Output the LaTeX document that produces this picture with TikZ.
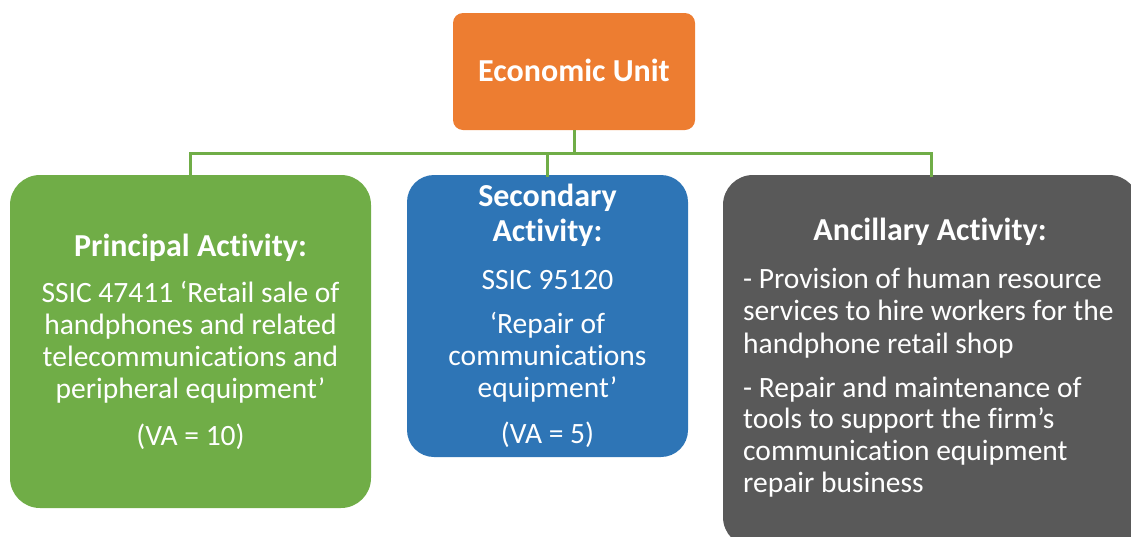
\documentclass[tikz,border=0pt]{standalone}
\usepackage{fontspec}
\setmainfont{Carlito}[Ligatures={NoCommon,NoRare}, Contextuals={NoAlternate}]
\definecolor{eorange}{HTML}{ED7D31}
\definecolor{egreen}{HTML}{70AD47}
\definecolor{eblue}{HTML}{2E75B6}
\definecolor{egray}{HTML}{595959}
\tikzset{
  box/.style={draw=none, rectangle, inner sep=0pt},
  conn/.style={draw=egreen, line width=3pt},
  ttl/.style={anchor=base, text=white, inner sep=0pt, font=\fontsize{32}{36}\selectfont\bfseries},
  bodyc/.style={anchor=base, text=white, inner sep=0pt, font=\fontsize{29.5}{32}\selectfont},
  bodyl/.style={anchor=base west, text=white, inner sep=0pt, font=\fontsize{29.5}{32}\selectfont},
}
\begin{document}
\begin{tikzpicture}[x=1pt,y=-1pt]
\useasboundingbox (0,0) rectangle (1131,536);
\clip (0,0) rectangle (1131,536);
% boxes
\node[box, fill=eorange, rounded corners=10pt, minimum width=242pt, minimum height=117pt] (eu) at (574,71.5) {};
\node[box, fill=egreen, rounded corners=30pt, minimum width=361pt, minimum height=333pt] (pa) at (190.5,341.5) {};
\node[box, fill=eblue, rounded corners=27pt, minimum width=281pt, minimum height=282pt] (sa) at (547.5,316) {};
\node[box, fill=egray, rounded corners=30pt, minimum width=416pt, minimum height=372pt] (aa) at (931,361) {};
% connectors
\coordinate (hub) at (574,153);
\draw[conn] (eu.south) -- (hub);
\draw[conn] (hub) -| ([yshift=-2pt]pa.north);
\draw[conn] (hub) -| ([yshift=-2pt]sa.north);
\draw[conn] (hub) -| ([yshift=-2pt]aa.north);
% texts
\node[ttl] (eut) at (574,81) {Economic Unit};
\node[ttl] (pa1) at (190.5,256) {Principal Activity:};
\node[bodyc] (pa2) at (190.5,302) {SSIC 47411 ‘Retail sale of};
\node[bodyc] (pa3) at (190.5,334) {handphones and related};
\node[bodyc] (pa4) at (190.5,366) {telecommunications and};
\node[bodyc] (pa5) at (190.5,398) {peripheral equipment’};
\node[bodyc] (pa6) at (190.5,445) {(VA = 10)};
\node[ttl] (sa1) at (547.5,206) {Secondary};
\node[ttl] (sa2) at (547.5,241) {Activity:};
\node[bodyc] (sa3) at (547.5,289) {SSIC 95120};
\node[bodyc] (sa4) at (547.5,333) {‘Repair of};
\node[bodyc] (sa5) at (547.5,365) {communications};
\node[bodyc] (sa6) at (547.5,397) {equipment’};
\node[bodyc] (sa7) at (547.5,443) {(VA = 5)};
\node[ttl] (aa1) at (930,240) {Ancillary Activity:};
\node[bodyl] (aa2) at (743,288) {- Provision of human resource};
\node[bodyl] (aa3) at (743,320) {services to hire workers for the};
\node[bodyl] (aa4) at (743,353) {handphone retail shop};
\node[bodyl] (aa5) at (743,397) {- Repair and maintenance of};
\node[bodyl] (aa6) at (743,428) {tools to support the firm’s};
\node[bodyl] (aa7) at (743,460) {communication equipment};
\node[bodyl] (aa8) at (743,492) {repair business};
\end{tikzpicture}
\end{document}
